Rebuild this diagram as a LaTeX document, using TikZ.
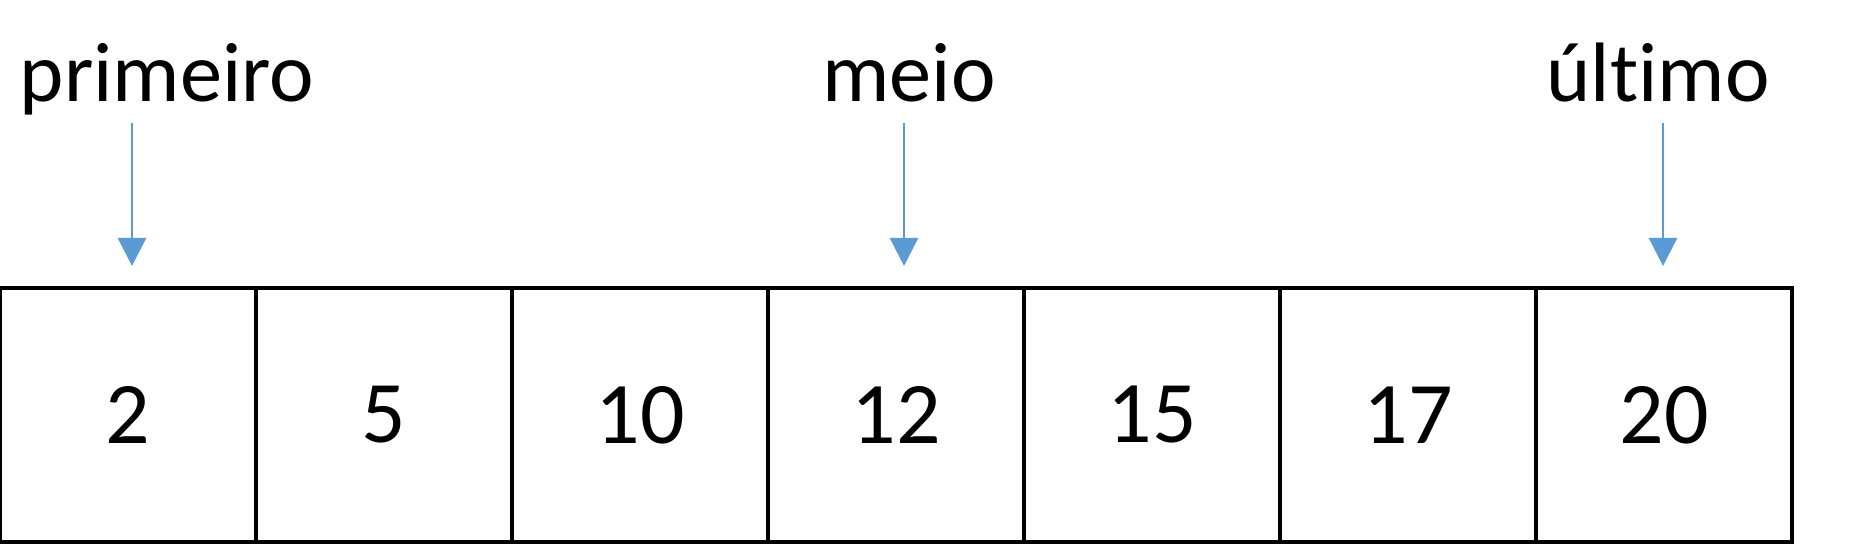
\documentclass[tikz,border=0pt]{standalone}
\usepackage{fontspec}
\setmainfont{Carlito}[Ligatures=NoCommon]
\usetikzlibrary{arrows.meta}
\tikzset{
	cell/.style={draw, line width=1.2pt, minimum width=2.56cm, minimum height=2.54cm, inner sep=0pt, font=\fontsize{25}{29}\selectfont},
	rotulo/.style={anchor=base, inner sep=0pt, font=\fontsize{24}{28}\selectfont},
	seta/.style={draw=azul, line width=0.7pt, -{Triangle[length=8pt, width=8pt]}}
}
\definecolor{azul}{RGB}{91,155,213}
\begin{document}
\begin{tikzpicture}
			%%%%% START %%%%%
			\useasboundingbox (0, 0) rectangle (18.76, 5.44);
			
			\node[cell] (a1) at (1.28, 1.29) {2};
			\node[cell] (a2) at (3.84, 1.29) {5};
			\node[cell] (a3) at (6.40, 1.29) {10};
			\node[cell] (a4) at (8.96, 1.29) {12};
			\node[cell] (a5) at (11.52, 1.29) {15};
			\node[cell] (a6) at (14.08, 1.29) {17};
			\node[cell] (a7) at (16.64, 1.29) {20};
			
			\node[rotulo] (primeiro) at (1.67, 4.42) {primeiro};
			\node[rotulo] (meio) at (9.09, 4.42) {meio};
			\node[rotulo] (ultimo) at (16.58, 4.42) {último};
			
			\coordinate (p1) at (1.32, 4.21);
			\coordinate (p2) at (9.04, 4.21);
			\coordinate (p3) at (16.63, 4.21);
			
			\draw[seta] (p1) -- (p1 |- {0,2.78});
			\draw[seta] (p2) -- (p2 |- {0,2.78});
			\draw[seta] (p3) -- (p3 |- {0,2.78});
			%%%%% END %%%%%
\end{tikzpicture}
\end{document}
